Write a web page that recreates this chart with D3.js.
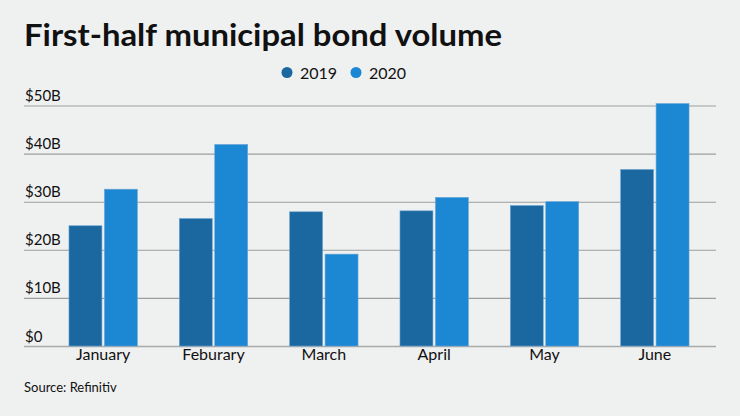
<!DOCTYPE html>
<html>
<head>
<meta charset="utf-8">
<script src="https://cdn.jsdelivr.net/npm/d3@7"></script>
<style>
body { margin: 0; background: #eff0f0; }
svg { display: block; }
text { font-family: Lato, "Open Sans", sans-serif; fill: #111; }
</style>
</head>
<body>
<svg id="chart"></svg>
<script>
var months = ["January", "Feburary", "March", "April", "May", "June"]
var series = ["2019", "2020"]
var values2019 = [25.0, 26.5, 27.9, 28.1, 29.2, 36.7]
var values2020 = [32.6, 41.9, 19.1, 30.9, 30.0, 50.4]
var yTicks = [0, 10, 20, 30, 40, 50]
var colors = ["#1b679f", "#1c87d2"]

var width = 740, height = 416

var svg = d3.select("#chart")
.attr("width", width)
.attr("height", height)

svg.append("rect")
.attr("width", width).attr("height", height)
.attr("fill", "#eff0f0")

//Scales

var y = d3.scaleLinear().domain([0, 50]).range([346, 105.5])

var x0 = d3.scaleBand()
.domain(months)
.range([48, 710])
.paddingInner(0.38)
.paddingOuter(0.19)

var x1 = d3.scaleBand()
.domain(series)
.range([0, x0.bandwidth()])
.paddingInner(0.07)

var color = d3.scaleOrdinal().domain(series).range(colors)

//Grid lines + y labels

var yAxis = d3.axisLeft(y)
.tickValues(yTicks)
.tickSize(-692)
.tickFormat(d => d == 0 ? "$0" : "$" + d + "B")

var gy = svg.append("g")
.attr("transform", "translate(716,0)")
.call(yAxis)

gy.select(".domain").remove()
gy.selectAll(".tick line")
.attr("transform", "translate(-692,0)")
.attr("x2", 692)
.attr("stroke", d => d == 0 ? "#a9abab" : "#9d9f9f")
.attr("stroke-width", d => d == 0 ? 1.6 : 1.1)
gy.selectAll(".tick text")
.attr("x", -692 + 1)
.attr("dy", -5)
.attr("y", 0)
.attr("text-anchor", "start")
.style("font-size", "15px")
.style("fill", "#111")

//Bars

var data = months.map((m, i) => ({month: m, vals: [
{key: "2019", value: values2019[i]},
{key: "2020", value: values2020[i]}
]}))

var groups = svg.selectAll(".group")
.data(data)
.enter().append("g")
.attr("class", "group")
.attr("transform", d => "translate(" + x0(d.month) + ",0)")

groups.selectAll("rect")
.data(d => d.vals)
.enter().append("rect")
.attr("x", d => x1(d.key))
.attr("width", x1.bandwidth())
.attr("y", d => y(d.value))
.attr("height", d => y(0) - y(d.value))
.attr("fill", d => color(d.key))
.attr("stroke", "#6aa6d6")
.attr("stroke-width", 0.6)

//X labels

var xAxis = d3.axisBottom(x0).tickSize(0)
var gx = svg.append("g")
.attr("transform", "translate(0,346)")
.call(xAxis)
gx.select(".domain").remove()
gx.selectAll(".tick text")
.attr("dy", 0)
.attr("y", 14)
.style("font-size", "16px")
.style("fill", "#111")

//Title, legend, source

svg.append("text")
.attr("x", 24)
.attr("y", 46)
.attr("textLength", 478)
.attr("lengthAdjust", "spacingAndGlyphs")
.style("font-size", "31px")
.style("font-weight", "700")
.text("First-half municipal bond volume")

var legend = svg.selectAll(".legend")
.data(series)
.enter().append("g")
.attr("class", "legend")
.attr("transform", (d, i) => "translate(" + (287 + i * 69) + ",72.5)")

legend.append("circle")
.attr("r", 5.5)
.attr("fill", d => color(d))

legend.append("text")
.attr("x", 13)
.attr("y", 6)
.style("font-size", "16px")
.text(d => d)

svg.append("text")
.attr("x", 24)
.attr("y", 392)
.style("font-size", "13px")
.text("Source: Refinitiv")
</script>
</body>
</html>
